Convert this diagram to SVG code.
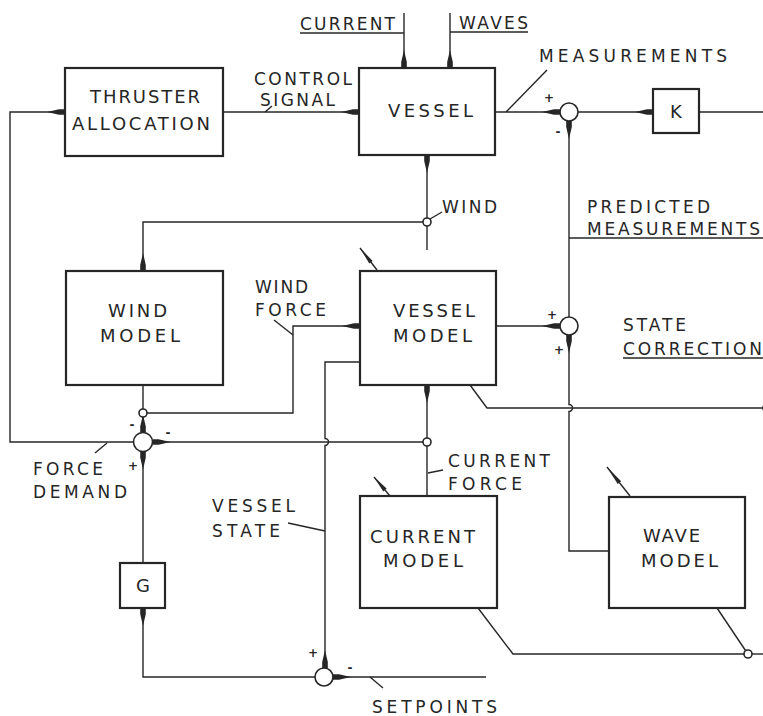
<svg xmlns="http://www.w3.org/2000/svg" width="763" height="716" viewBox="0 0 763 716">
<style>
.bx{fill:#fff;stroke:#262626;stroke-width:2.2}
.ln{fill:none;stroke:#262626;stroke-width:1.4}
.jn{fill:#fff;stroke:#262626;stroke-width:1.6}
.tx{font-family:"DejaVu Sans","Liberation Sans",sans-serif;font-size:18px;fill:#262626}
.lb{font-family:"DejaVu Sans","Liberation Sans",sans-serif;font-size:17px;fill:#262626}
.sg{font-family:"DejaVu Sans","Liberation Sans",sans-serif;font-size:12px;font-weight:bold;fill:#262626;text-anchor:middle}
.ad{fill:#262626;stroke:none}
</style>
<defs>
<marker id="ah" markerUnits="userSpaceOnUse" markerWidth="20" markerHeight="10" refX="18" refY="5" orient="auto">
<path d="M0,5 L12,2.2 L18,2.2 L18,7.8 L12,7.8 z" fill="#262626"/>
</marker>
</defs>
<rect width="763" height="716" fill="#fff"/>

<g id="connectors">
<path class="ln" marker-end="url(#ah)" d="M133.5,442 H10 V112 H65"/>
<path class="ln" marker-end="url(#ah)" d="M223,112 H359"/>
<path class="ln" marker-end="url(#ah)" d="M404,13 V68"/>
<path class="ln" d="M300,33 H404"/>
<path class="ln" marker-end="url(#ah)" d="M450,13 V68"/>
<path class="ln" d="M450,32 H528"/>
<path class="ln" marker-end="url(#ah)" d="M495,112 H560"/>
<path class="ln" marker-end="url(#ah)" d="M578,112 H653"/>
<path class="ln" d="M699,112 H763"/>
<path class="ln" marker-end="url(#ah)" d="M427,218 V155"/>
<path class="ln" d="M427,226 V250"/>
<path class="ln" marker-end="url(#ah)" d="M423,222 H143 V271"/>
<path class="ln" d="M143,385 V409"/>
<path class="ln" marker-end="url(#ah)" d="M143,417 V432.5"/>
<path class="ln" marker-end="url(#ah)" d="M147,413 H293 V326 H360"/>
<path class="ln" marker-end="url(#ah)" d="M496,326 H560"/>
<path class="ln" marker-end="url(#ah)" d="M569,317 V121"/>
<path class="ln" marker-end="url(#ah)" d="M609,551 H569 V411.5 A3.5,3.5 0 0 0 569,404.5 V335"/>
<path class="ln" marker-end="url(#ah)" d="M360,362 H325 V438.5 A3.5,3.5 0 0 1 325,445.5 V668"/>
<path class="ln" d="M427,496 V446"/>
<path class="ln" marker-end="url(#ah)" d="M427,438 V385"/>
<path class="ln" marker-end="url(#ah)" d="M423,442 H152.5"/>
<path class="ln" marker-end="url(#ah)" d="M143,563 V451.5"/>
<path class="ln" marker-end="url(#ah)" d="M315,677 H143 V608"/>
<path class="ln" marker-end="url(#ah)" d="M486,677 H333"/>
<path class="ln" d="M470,385 L487,408 H763"/>
<path class="ln" d="M478,608 L513,654 H744"/>
<path class="ln" d="M752,654 H763"/>
<path class="ln" d="M717,608 L745.5,650.5"/>
<circle class="jn" cx="767" cy="408" r="4"/>
<path class="ln" d="M265,112 L272,106"/>
<path class="ln" d="M506,112 L547,70"/>
<path class="ln" d="M430,219 L442,212"/>
<path class="ln" d="M274,320 L293,335"/>
<path class="ln" d="M95,453 L107,443"/>
<path class="ln" d="M428,473 L443,470"/>
<path class="ln" d="M288,523 L325,531"/>
<path class="ln" d="M370,677 L383,688"/>
<path class="ln" d="M569,238 H763"/>
<path class="ln" d="M623,358 H763"/>
</g>

<g id="thruster-allocation">
<rect class="bx" x="65" y="68" width="158" height="88"/>
<text class="tx" x="90" y="103" textLength="110" lengthAdjust="spacing">THRUSTER</text>
<text class="tx" x="72" y="130" textLength="138" lengthAdjust="spacing">ALLOCATION</text>
</g>
<g id="vessel">
<rect class="bx" x="359" y="68" width="136" height="87"/>
<text class="tx" x="388" y="117" textLength="85" lengthAdjust="spacing">VESSEL</text>
</g>
<g id="k-gain">
<rect class="bx" x="653" y="89" width="46" height="44"/>
<text class="tx" x="676" y="118" text-anchor="middle">K</text>
</g>
<g id="wind-model">
<rect class="bx" x="66" y="271" width="157" height="114"/>
<text class="tx" x="108" y="317" textLength="59" lengthAdjust="spacing">WIND</text>
<text class="tx" x="100" y="342" textLength="80" lengthAdjust="spacing">MODEL</text>
</g>
<g id="vessel-model">
<rect class="bx" x="360" y="271" width="136" height="114"/>
<text class="tx" x="393" y="317" textLength="82" lengthAdjust="spacing">VESSEL</text>
<text class="tx" x="393" y="342" textLength="79" lengthAdjust="spacing">MODEL</text>
<path class="ln" d="M360,248 L377,270"/>
<polygon class="ad" points="360,248 369.3,263.5 372.7,260.9"/>
</g>
<g id="current-model">
<rect class="bx" x="360" y="496" width="137" height="112"/>
<text class="tx" x="370" y="543" textLength="105" lengthAdjust="spacing">CURRENT</text>
<text class="tx" x="383" y="567" textLength="80" lengthAdjust="spacing">MODEL</text>
<path class="ln" d="M374,477 L390,496"/>
<polygon class="ad" points="374,477 383.3,491.4 386.7,488.6"/>
</g>
<g id="wave-model">
<rect class="bx" x="609" y="497" width="136" height="111"/>
<text class="tx" x="643" y="542" textLength="57" lengthAdjust="spacing">WAVE</text>
<text class="tx" x="641" y="567" textLength="77" lengthAdjust="spacing">MODEL</text>
<path class="ln" d="M607,467 L630,496"/>
<polygon class="ad" points="607,467 617.7,484 621.1,481.2"/>
</g>
<g id="g-gain">
<rect class="bx" x="120" y="563" width="45" height="45"/>
<text class="tx" x="143" y="592" text-anchor="middle">G</text>
</g>
<g id="sum-measurement">
<circle class="jn" cx="569" cy="112" r="9"/>
<text class="sg" x="549" y="102">+</text>
<text class="sg" x="558" y="136">-</text>
</g>
<g id="sum-prediction">
<circle class="jn" cx="569" cy="326" r="9"/>
<text class="sg" x="552" y="319">+</text>
<text class="sg" x="559" y="354">+</text>
</g>
<g id="sum-force">
<circle class="jn" cx="143" cy="442" r="9.5"/>
<text class="sg" x="132" y="429">-</text>
<text class="sg" x="168" y="437">-</text>
<text class="sg" x="133" y="470">+</text>
</g>
<g id="sum-setpoint">
<circle class="jn" cx="324" cy="677" r="9"/>
<text class="sg" x="313" y="657">+</text>
<text class="sg" x="350" y="672">-</text>
</g>
<g id="wind-node"><circle class="jn" cx="427" cy="222" r="4"/></g>
<g id="wind-force-node"><circle class="jn" cx="143" cy="413" r="4"/></g>
<g id="current-force-node"><circle class="jn" cx="427" cy="442" r="4"/></g>
<g id="wave-node"><circle class="jn" cx="748" cy="654" r="4"/></g>

<g id="labels">
<text class="lb" x="300" y="30" textLength="95" lengthAdjust="spacing">CURRENT</text>
<text class="lb" x="459" y="29" textLength="69" lengthAdjust="spacing">WAVES</text>
<text class="lb" x="254" y="85" textLength="98" lengthAdjust="spacing">CONTROL</text>
<text class="lb" x="260" y="106" textLength="75" lengthAdjust="spacing">SIGNAL</text>
<text class="lb" x="539" y="62" textLength="188" lengthAdjust="spacing">MEASUREMENTS</text>
<text class="lb" x="442" y="213" textLength="55" lengthAdjust="spacing">WIND</text>
<text class="lb" x="587" y="213" textLength="123" lengthAdjust="spacing">PREDICTED</text>
<text class="lb" x="587" y="235" textLength="173" lengthAdjust="spacing">MEASUREMENTS</text>
<text class="lb" x="255" y="293" textLength="53" lengthAdjust="spacing">WIND</text>
<text class="lb" x="255" y="316" textLength="71" lengthAdjust="spacing">FORCE</text>
<text class="lb" x="623" y="331" textLength="63" lengthAdjust="spacing">STATE</text>
<text class="lb" x="623" y="355" textLength="139" lengthAdjust="spacing">CORRECTION</text>
<text class="lb" x="33" y="475" textLength="70" lengthAdjust="spacing">FORCE</text>
<text class="lb" x="33" y="498" textLength="94" lengthAdjust="spacing">DEMAND</text>
<text class="lb" x="448" y="467" textLength="102" lengthAdjust="spacing">CURRENT</text>
<text class="lb" x="448" y="490" textLength="74" lengthAdjust="spacing">FORCE</text>
<text class="lb" x="212" y="512" textLength="83" lengthAdjust="spacing">VESSEL</text>
<text class="lb" x="212" y="537" textLength="68" lengthAdjust="spacing">STATE</text>
<text class="lb" x="372" y="713" textLength="125" lengthAdjust="spacing">SETPOINTS</text>
</g>
</svg>
